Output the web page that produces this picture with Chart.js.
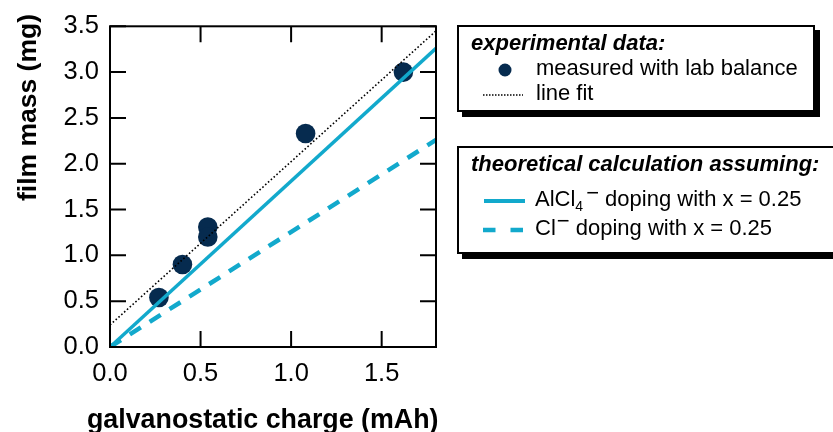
<!DOCTYPE html>
<html><head><meta charset="utf-8">
<script src="https://cdn.jsdelivr.net/npm/chart.js@4.4.1/dist/chart.umd.min.js"></script>
<style>
html,body{margin:0;padding:0;background:#fff;width:833px;height:432px;overflow:hidden;font-family:"Liberation Sans",Arial,Helvetica,sans-serif;}
#wrap{position:relative;width:833px;height:432px;overflow:hidden;}
#c{position:absolute;left:0;top:0;}
.box{position:absolute;background:#fff;border:2px solid #000;box-shadow:5px 5px 0 #000;box-sizing:border-box;}
.t{position:absolute;white-space:nowrap;font-size:22px;line-height:22px;color:#000;}
.h{font-weight:bold;font-style:italic;}
.sub{font-size:14px;position:relative;top:5px;}
.sup{position:relative;top:-6.5px;}
.axt{position:absolute;white-space:nowrap;font-weight:bold;color:#000;}
svg.s{position:absolute;left:0;top:0;overflow:visible;}
</style></head>
<body>
<div id="wrap">
<canvas id="c" width="833" height="432"></canvas>
<div class="axt" style="left:87px;top:406.3px;font-size:26.8px;line-height:26.8px;">galvanostatic charge (mAh)</div>
<div class="axt" style="left:14px;top:201px;font-size:26.5px;line-height:26.5px;transform:rotate(-90deg);transform-origin:0 0;">film mass (mg)</div>
<div class="box" style="left:457px;top:25px;width:358px;height:87px;"></div>
<div class="box" style="left:457px;top:146px;width:400px;height:108px;"></div>
<svg class="s" width="833" height="432">
  <circle cx="505" cy="70" r="6.5" fill="#062b4f"/>
  <line x1="483" y1="95" x2="523" y2="95" stroke="#000" stroke-width="1.5" stroke-dasharray="1.5 1.5"/>
  <line x1="484" y1="201" x2="525" y2="201" stroke="#12a9cc" stroke-width="4"/>
  <line x1="483" y1="230" x2="523" y2="230" stroke="#12a9cc" stroke-width="4.5" stroke-dasharray="12.5 15"/>
</svg>
<div class="t h" style="left:471px;top:32px;">experimental data:</div>
<div class="t" style="left:536px;top:56.5px;">measured with lab balance</div>
<div class="t" style="left:536px;top:81.5px;">line fit</div>
<div class="t h" style="left:471px;top:153px;">theoretical calculation assuming:</div>
<div class="t" style="left:535px;top:188px;">AlCl<span class="sub">4</span><span class="sup" style="margin-left:3px;">−</span> doping with x = 0.25</div>
<div class="t" style="left:535px;top:216.5px;">Cl<span class="sup" style="margin-left:1px;">−</span> doping with x = 0.25</div>
</div>
<script>
const xTickValues = [0, 0.5, 1.0, 1.5];
const yTickValues = [0, 0.5, 1.0, 1.5, 2.0, 2.5, 3.0, 3.5];
const measuredX = [0.27, 0.40, 0.54, 0.54, 1.08, 1.62];
const measuredY = [0.54, 0.90, 1.31, 1.20, 2.33, 3.00];
const fitX = [0, 1.8];
const fitY = [0.24, 3.45];
const alcl4X = [0, 1.8];
const alcl4Y = [0, 3.26];
const clX = [0, 1.8];
const clY = [0, 2.26];

const NAVY = '#062b4f';
const CYAN = '#12a9cc';
const FONT = '"Liberation Sans", Arial, Helvetica, sans-serif';

const pts = (xs, ys) => xs.map((x, i) => ({x: x, y: ys[i]}));

const framePlugin = {
  id: 'frame',
  afterDatasetsDraw(chart) {
    const {ctx, chartArea: a, scales} = chart;
    ctx.save();
    ctx.strokeStyle = '#000';
    ctx.lineWidth = 2;
    ctx.strokeRect(a.left, a.top, a.right - a.left, a.bottom - a.top);
    const L = 16;
    ctx.beginPath();
    xTickValues.forEach(v => {
      const px = scales.x.getPixelForValue(v);
      ctx.moveTo(px, a.bottom); ctx.lineTo(px, a.bottom - L);
      ctx.moveTo(px, a.top); ctx.lineTo(px, a.top + L);
    });
    yTickValues.forEach(v => {
      const py = scales.y.getPixelForValue(v);
      ctx.moveTo(a.left, py); ctx.lineTo(a.left + L, py);
      ctx.moveTo(a.right, py); ctx.lineTo(a.right - L, py);
    });
    ctx.stroke();
    ctx.restore();
  }
};

new Chart(document.getElementById('c'), {
  type: 'scatter',
  data: {
    datasets: [
      {label: 'measured with lab balance', data: pts(measuredX, measuredY), backgroundColor: NAVY, borderWidth: 0, pointRadius: 9.8, pointHoverRadius: 9.8, order: 4},
      {label: 'Cl- doping', data: pts(clX, clY), showLine: true, borderColor: CYAN, borderWidth: 4.5, borderDash: [13, 10.5], pointRadius: 0, order: 3},
      {label: 'AlCl4- doping', data: pts(alcl4X, alcl4Y), showLine: true, borderColor: CYAN, borderWidth: 3.5, pointRadius: 0, order: 2},
      {label: 'line fit', data: pts(fitX, fitY), showLine: true, borderColor: '#000', borderWidth: 1.6, borderDash: [1.6, 2.2], pointRadius: 0, order: 1}
    ]
  },
  options: {
    responsive: false,
    devicePixelRatio: 1,
    animation: false,
    layout: {padding: {top: 21, right: 397, left: 0, bottom: 0}},
    plugins: {legend: {display: false}, tooltip: {enabled: false}},
    scales: {
      x: {
        type: 'linear', position: 'bottom', min: 0, max: 1.8,
        grid: {display: false, drawTicks: false},
        border: {display: false},
        afterBuildTicks: s => { s.ticks = xTickValues.map(v => ({value: v})); },
        afterFit: s => { s.height = 85; },
        ticks: {color: '#000', padding: 12, font: {family: FONT, size: 25.5}, callback: v => Number(v).toFixed(1)},
        title: {display: false, text: 'galvanostatic charge (mAh)'}
      },
      y: {
        type: 'linear', position: 'left', min: 0, max: 3.5,
        grid: {display: false, drawTicks: false},
        border: {display: false},
        afterBuildTicks: s => { s.ticks = yTickValues.map(v => ({value: v})); },
        afterFit: s => { s.width = 110; },
        ticks: {color: '#000', padding: 11, font: {family: FONT, size: 25.5}, callback: v => Number(v).toFixed(1)},
        title: {display: false, text: 'film mass (mg)'}
      }
    }
  },
  plugins: [framePlugin]
});
</script>
</body></html>
